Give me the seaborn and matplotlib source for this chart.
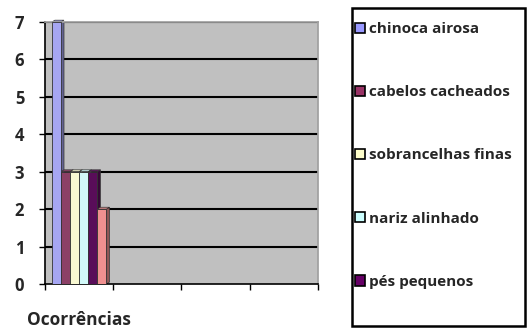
import matplotlib
matplotlib.use("Agg")
import matplotlib.pyplot as plt
from matplotlib.patches import Patch, Rectangle, Polygon
import pandas as pd
import seaborn as sns

# Data
category = "Ocorrências"
series = ["chinoca airosa", "cabelos cacheados", "sobrancelhas finas",
          "nariz alinhado", "pés pequenos", "outros"]
values = [7, 3, 3, 3, 3, 2]
colors = ["#9999FF", "#993366", "#FFFFCC", "#CCFFFF", "#660066", "#FF8080"]
yticks = [0, 1, 2, 3, 4, 5, 6, 7]
legend_count = 5

df = pd.DataFrame({"cat": [category] * len(series), "serie": series, "valor": values})

sns.set_theme(style="white")
plt.rcParams["font.family"] = ["Open Sans", "DejaVu Sans"]

fig = plt.figure(figsize=(5.27, 3.29), dpi=100)
ax = fig.add_axes([0.0854, 0.137, 0.518, 0.796])
ax.set_facecolor("#C0C0C0")

sns.barplot(data=df, x="cat", y="valor", hue="serie", hue_order=series,
            palette=colors, width=0.8, ax=ax, legend=False,
            edgecolor="#333333", linewidth=0.6, zorder=3)

ax.set_xlim(-0.5, 3.5)
ax.set_ylim(0, 7)

# Shallow depth faces on each bar (side and top), derived from the bar patches
dx, dy = 0.045, 0.05
for bar in list(ax.patches):
    x0, w, h = bar.get_x(), bar.get_width(), bar.get_height()
    fc = bar.get_facecolor()
    dark = tuple(c * 0.6 for c in fc[:3])
    light = tuple(min(1, c * 0.9 + 0.05) for c in fc[:3])
    ax.add_patch(Polygon([(x0 + w, 0), (x0 + w + dx, dy), (x0 + w + dx, h + dy), (x0 + w, h)],
                         closed=True, facecolor=dark, edgecolor="#333333",
                         linewidth=0.5, zorder=2.5))
    ax.add_patch(Polygon([(x0, h), (x0 + dx, h + dy), (x0 + w + dx, h + dy), (x0 + w, h)],
                         closed=True, facecolor=light, edgecolor="#333333",
                         linewidth=0.5, zorder=2.5, clip_on=False))

ax.set_yticks(yticks)
ax.set_yticklabels([str(t) for t in yticks], fontsize=12, fontweight="bold")
ax.set_xticks([-0.5, 0.5, 1.5, 2.5, 3.5])
ax.set_xticklabels([])
ax.tick_params(axis="both", direction="out", length=4, width=1, color="black",
               bottom=True, left=True)
ax.tick_params(axis="y", pad=11)
for t in yticks[1:]:
    ax.axhline(t, color="black", linewidth=1.5, zorder=1)
ax.set_xlabel("")
ax.set_ylabel("")
ax.text(0, -0.97, category, transform=ax.transData, ha="center", va="center",
        fontsize=12.5, fontweight="bold", clip_on=False)

for side in ["top", "right"]:
    ax.spines[side].set_color("#A0A0A0")
ax.spines["left"].set_color("black")
ax.spines["bottom"].set_color("black")
ax.spines["left"].set_linewidth(1.2)
ax.spines["bottom"].set_linewidth(1.2)

# Legend box
fig.patches.append(Rectangle((352 / 527, 1 - 326 / 329), 173 / 527, 318 / 329,
                             transform=fig.transFigure, fill=False,
                             edgecolor="black", linewidth=1.8))
handles = [Patch(facecolor=c, edgecolor="black", linewidth=1.2)
           for c in colors[:legend_count]]
fig.legend(handles, series[:legend_count], loc="upper left",
           bbox_to_anchor=(355 / 527, 1 - 22 / 329), frameon=False,
           prop={"weight": "bold", "size": 11},
           handlelength=0.65, handleheight=0.65, handletextpad=0.25,
           labelspacing=3.22, borderpad=0, borderaxespad=0)

fig.savefig("out.png", dpi=100)
